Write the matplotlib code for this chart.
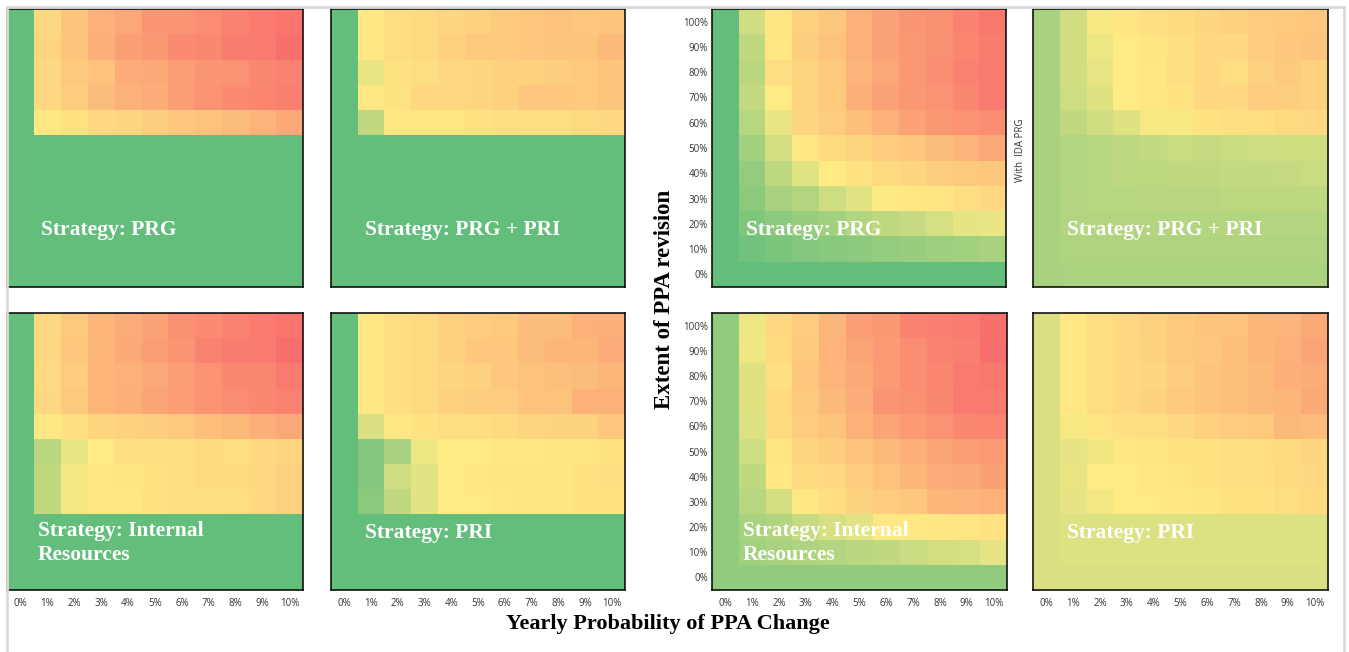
import numpy as np
import matplotlib
matplotlib.use("Agg")
import matplotlib.pyplot as plt
from matplotlib.colors import LinearSegmentedColormap
from matplotlib.lines import Line2D

# ---------------- data (normalised score: 0 = green, 0.5 = yellow, 1 = red) ----------------
x_labels = ["0%", "1%", "2%", "3%", "4%", "5%", "6%", "7%", "8%", "9%", "10%"]
y_labels = ["0%", "10%", "20%", "30%", "40%", "50%", "60%", "70%", "80%", "90%", "100%"]

# rows listed from 100% (top) down to 0% (bottom); columns 0% .. 10%
prg = [
    [0, .57, .65, .72, .76, .83, .83, .86, .90, .93, .95],
    [0, .58, .65, .73, .79, .82, .87, .88, .92, .93, .97],
    [0, .57, .63, .66, .74, .75, .80, .83, .84, .88, .90],
    [0, .57, .62, .68, .72, .74, .80, .84, .87, .89, .91],
    [0, .51, .53, .57, .58, .61, .64, .66, .68, .71, .75],
    [0] * 11, [0] * 11, [0] * 11, [0] * 11, [0] * 11, [0] * 11,
]
prg_pri = [
    [0, .51, .55, .56, .58, .60, .63, .64, .66, .64, .65],
    [0, .51, .55, .56, .60, .63, .63, .64, .65, .65, .69],
    [0, .43, .53, .55, .57, .58, .60, .60, .61, .63, .65],
    [0, .51, .53, .57, .57, .58, .60, .64, .64, .63, .65],
    [0, .30, .51, .51, .51, .53, .54, .55, .55, .56, .57],
    [0] * 11, [0] * 11, [0] * 11, [0] * 11, [0] * 11, [0] * 11,
]
prg_ida = [
    [0, .35, .52, .60, .64, .72, .78, .83, .85, .90, .94],
    [0, .30, .51, .61, .66, .72, .78, .82, .85, .89, .92],
    [0, .28, .55, .58, .63, .71, .76, .82, .86, .90, .93],
    [0, .31, .50, .58, .63, .73, .78, .82, .84, .88, .93],
    [0, .27, .43, .58, .62, .67, .72, .78, .82, .84, .86],
    [0, .20, .36, .51, .56, .58, .62, .64, .68, .71, .76],
    [0, .16, .29, .41, .50, .53, .56, .58, .61, .63, .64],
    [0, .13, .22, .26, .34, .41, .49, .51, .52, .55, .57],
    [0, .09, .14, .17, .20, .25, .29, .32, .37, .42, .43],
    [0, .05, .08, .10, .12, .14, .16, .17, .19, .20, .22],
    [0] * 11,
]
prg_pri_ida = [
    [.22, .35, .48, .52, .54, .56, .58, .60, .62, .63, .64],
    [.22, .35, .44, .50, .52, .54, .57, .57, .62, .64, .65],
    [.22, .35, .43, .50, .51, .54, .57, .55, .60, .63, .60],
    [.22, .34, .40, .50, .51, .53, .57, .57, .62, .61, .60],
    [.22, .30, .35, .40, .47, .48, .53, .54, .54, .56, .57],
    [.22, .25, .27, .29, .31, .33, .32, .33, .34, .35, .35],
    [.22, .25, .27, .29, .29, .30, .30, .31, .31, .32, .33],
    [.22, .26, .27, .27, .28, .28, .28, .29, .29, .29, .29],
    [.22, .26, .26, .26, .26, .26, .26, .26, .26, .26, .26],
    [.22, .24, .24, .24, .24, .24, .24, .24, .24, .24, .24],
    [.22, .23, .23, .23, .23, .23, .23, .23, .23, .23, .23],
]
internal = [
    [0, .57, .63, .70, .74, .78, .85, .87, .90, .93, .95],
    [0, .57, .64, .70, .75, .80, .83, .90, .92, .93, .98],
    [0, .56, .62, .70, .72, .76, .80, .84, .88, .88, .93],
    [0, .57, .63, .70, .73, .77, .80, .84, .86, .88, .90],
    [0, .51, .54, .58, .60, .61, .63, .67, .69, .73, .76],
    [0, .28, .43, .50, .54, .54, .55, .56, .55, .57, .58],
    [0, .30, .46, .51, .52, .53, .55, .56, .56, .57, .60],
    [0, .30, .46, .51, .51, .53, .54, .54, .55, .57, .60],
    [0] * 11, [0] * 11, [0] * 11,
]
pri = [
    [0, .51, .55, .56, .60, .62, .63, .68, .68, .72, .73],
    [0, .51, .55, .56, .60, .64, .64, .68, .70, .70, .74],
    [0, .51, .54, .56, .58, .60, .64, .66, .67, .68, .70],
    [0, .51, .54, .56, .60, .61, .62, .66, .66, .72, .72],
    [0, .38, .51, .53, .55, .55, .56, .58, .59, .59, .64],
    [0, .10, .22, .44, .50, .50, .51, .51, .52, .52, .53],
    [0, .10, .34, .41, .50, .51, .52, .52, .52, .53, .54],
    [0, .13, .30, .41, .50, .50, .51, .52, .52, .53, .53],
    [0] * 11, [0] * 11, [0] * 11,
]
internal_ida = [
    [.15, .44, .57, .62, .70, .80, .82, .90, .91, .93, .97],
    [.15, .45, .56, .63, .71, .77, .81, .86, .90, .91, .98],
    [.15, .40, .54, .64, .71, .75, .81, .86, .89, .93, .94],
    [.15, .40, .56, .63, .69, .74, .83, .85, .88, .93, .93],
    [.15, .39, .56, .62, .65, .72, .77, .81, .84, .88, .89],
    [.15, .34, .52, .58, .61, .66, .69, .73, .77, .80, .81],
    [.15, .30, .51, .56, .57, .62, .66, .70, .74, .75, .79],
    [.15, .27, .36, .51, .55, .59, .62, .64, .70, .71, .72],
    [.15, .22, .26, .32, .37, .41, .51, .51, .52, .52, .53],
    [.15, .20, .22, .24, .26, .28, .30, .33, .36, .37, .42],
    [.15] * 11,
]
pri_ida = [
    [.38, .51, .55, .57, .60, .63, .65, .66, .70, .71, .75],
    [.38, .51, .55, .57, .59, .63, .64, .67, .70, .72, .77],
    [.38, .51, .54, .57, .58, .62, .65, .67, .69, .73, .74],
    [.38, .51, .55, .57, .59, .63, .65, .67, .69, .70, .75],
    [.38, .47, .52, .54, .55, .57, .60, .62, .63, .69, .68],
    [.38, .42, .45, .51, .52, .53, .53, .54, .55, .56, .58],
    [.38, .43, .50, .50, .51, .52, .53, .54, .54, .56, .57],
    [.38, .42, .46, .50, .50, .51, .52, .53, .53, .55, .56],
    [.38, .39, .39, .39, .39, .39, .39, .39, .39, .39, .39],
    [.38, .39, .39, .39, .39, .39, .39, .39, .39, .39, .39],
    [.38] * 11,
]

panels = [
    (prg, "Strategy: PRG"),
    (prg_pri, "Strategy: PRG + PRI"),
    (prg_ida, "Strategy: PRG"),
    (prg_pri_ida, "Strategy: PRG + PRI"),
    (internal, "Strategy: Internal\nResources"),
    (pri, "Strategy: PRI"),
    (internal_ida, "Strategy: Internal\nResources"),
    (pri_ida, "Strategy: PRI"),
]

# ---------------- layout ----------------
W, H = 1349, 652
fig = plt.figure(figsize=(W / 100, H / 100), dpi=100)
fig.patch.set_facecolor("white")

cmap = LinearSegmentedColormap.from_list("excel3", ["#63BE7B", "#FFEB84", "#F8696B"])

# outer light grey frame
for xs, ys in [([7, 1344], [7, 7]), ([7, 7], [7, 652]), ([1344, 1344], [7, 652])]:
    fig.add_artist(Line2D([x / W for x in xs], [1 - y / H for y in ys],
                          color="#D9D9D9", lw=2))

boxes = [
    (7, 9, 303, 287), (331, 9, 625, 287), (712, 9, 1006, 287), (1033, 9, 1328, 287),
    (7, 313, 303, 590), (331, 313, 625, 590), (712, 313, 1007, 590), (1033, 313, 1328, 590),
]

tick_font = "Open Sans"
for i, ((l, t, r, b), (data, label)) in enumerate(zip(boxes, panels)):
    ax = fig.add_axes([l / W, 1 - b / H, (r - l) / W, (b - t) / H])
    z = np.flipud(np.array(data, dtype=float))
    ax.pcolormesh(np.arange(12) - 0.5, np.arange(12) - 0.5, z, cmap=cmap,
                  vmin=0, vmax=1, shading="flat")
    ax.set_xlim(-0.5, 10.5)
    ax.set_ylim(-0.5, 10.5)
    for sp in ax.spines.values():
        sp.set_color("black")
        sp.set_linewidth(1.1)
    ax.tick_params(length=0)
    if i >= 4:
        ax.set_xticks(range(11))
        ax.set_xticklabels(x_labels, fontsize=7, family=tick_font, color="#333333")
        ax.tick_params(axis="x", pad=5.5)
    else:
        ax.set_xticks([])
    if i in (2, 6):
        ax.set_yticks(range(11))
        ax.set_yticklabels(y_labels, fontsize=7, family=tick_font, color="#333333")
        ax.tick_params(axis="y", pad=3)
    else:
        ax.set_yticks([])
    if "\n" in label:
        ax.text(0.105, 0.170, label, transform=ax.transAxes, ha="left", va="center",
                color="white", fontsize=15.5, fontweight="bold",
                family="Liberation Serif", linespacing=1.25)
    else:
        ax.text(0.115, 0.205, label, transform=ax.transAxes, ha="left", va="center",
                color="white", fontsize=15.5, fontweight="bold", family="Liberation Serif")

# axis titles
fig.text(668 / W, 1 - 624 / H, "Yearly Probability of PPA Change", ha="center", va="center",
         fontsize=16, fontweight="bold", family="Liberation Serif")
fig.text(664 / W, 1 - 299 / H, "Extent of PPA revision", ha="center", va="center",
         rotation=90, fontsize=16.5, fontweight="bold", family="Liberation Serif")
fig.text(1020 / W, 1 - 150 / H, "With  IDA PRG", ha="center", va="center", rotation=90,
         fontsize=7, family=tick_font, color="#333333")

fig.savefig("out.png", dpi=100)
